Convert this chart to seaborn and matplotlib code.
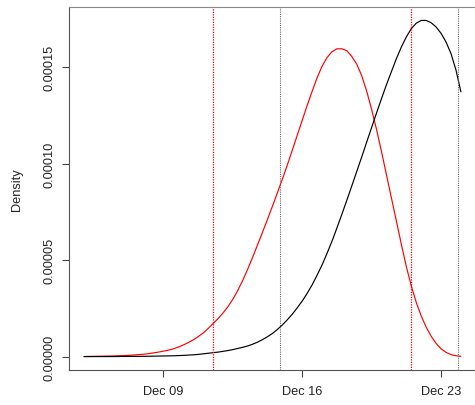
import numpy as np
import pandas as pd
import matplotlib
matplotlib.use("Agg")
import matplotlib.pyplot as plt
import matplotlib.dates as mdates
import matplotlib.ticker as mticker
import seaborn as sns

# --- data (density values, in units of 1e-5) ---
dates = pd.date_range("2020-12-05", "2020-12-24", freq="6h")

red_density = [0.00, 0.005, 0.01, 0.015, 0.02, 0.025, 0.03, 0.04, 0.05, 0.065,
               0.08, 0.10, 0.12, 0.15, 0.19, 0.23, 0.28, 0.33, 0.40, 0.49,
               0.60, 0.72, 0.86, 1.03, 1.22, 1.45, 1.70, 1.96, 2.25, 2.58,
               2.97, 3.43, 3.95, 4.53, 5.15, 5.80, 6.45, 7.12, 7.80, 8.50,
               9.20, 9.94, 10.70, 11.48, 12.25, 13.02, 13.75, 14.45, 15.05, 15.50,
               15.80, 15.95, 15.95, 15.85, 15.55, 15.15, 14.55, 13.75, 12.80, 11.75,
               10.60, 9.40, 8.20, 7.00, 5.80, 4.65, 3.65, 2.80, 2.10, 1.52,
               1.05, 0.68, 0.40, 0.22, 0.10, 0.04, 0.01]

black_density = [0.00, 0.00, 0.00, 0.00, 0.00, 0.00, 0.00, 0.005, 0.005, 0.008,
                 0.01, 0.01, 0.012, 0.015, 0.02, 0.025, 0.03, 0.035, 0.04, 0.05,
                 0.06, 0.075, 0.09, 0.11, 0.14, 0.17, 0.20, 0.23, 0.27, 0.31,
                 0.36, 0.42, 0.48, 0.55, 0.64, 0.75, 0.88, 1.03, 1.20, 1.41,
                 1.64, 1.91, 2.20, 2.53, 2.88, 3.28, 3.72, 4.22, 4.75, 5.35,
                 5.98, 6.67, 7.38, 8.11, 8.85, 9.60, 10.35, 11.12, 11.88, 12.64,
                 13.38, 14.10, 14.78, 15.45, 16.05, 16.57, 17.00, 17.28, 17.42, 17.42,
                 17.30, 17.08, 16.75, 16.30, 15.70, 14.85, 13.72]

red_bounds = ["2020-12-11 11:45", "2020-12-21 11:15"]
black_bounds = ["2020-12-14 21:00", "2020-12-23 20:00"]

tick_dates = ["2020-12-09", "2020-12-16", "2020-12-23"]
y_ticks = [0.0, 0.00005, 0.00010, 0.00015]

df = pd.DataFrame({
    "date": list(dates) * 2,
    "density": np.array(red_density + black_density) * 1e-5,
    "series": ["red"] * len(dates) + ["black"] * len(dates),
})

# --- style ---
sns.set_style("ticks")
plt.rcParams["font.family"] = ["Liberation Sans", "DejaVu Sans"]

fig = plt.figure(figsize=(4.75, 4.06), dpi=100)
ax = fig.add_axes([69 / 475, 1 - 371 / 406, 407 / 475, 363 / 406])

sns.lineplot(data=df, x="date", y="density", hue="series",
             palette={"red": "#ff0000", "black": "#000000"},
             linewidth=0.85, legend=False, estimator=None, ax=ax)

# interval markers, R "dotted" style
ax.vlines(pd.to_datetime(black_bounds), 0, 1, transform=ax.get_xaxis_transform(),
          colors="#666666", linewidths=0.8, linestyles=[(0, (1, 1))])
ax.vlines(pd.to_datetime(red_bounds), 0, 1, transform=ax.get_xaxis_transform(),
          colors="#ff0000", linewidths=0.9, linestyles=[(0, (1, 1))])

# R-style limits: data range plus 4% on each side
span = dates[-1] - dates[0]
ax.set_xlim(dates[0] - 0.04 * span, dates[-1] + 0.04 * span)
ymax = df["density"].max()
ax.set_ylim(-0.04 * ymax, 1.04 * ymax)

ax.set_xticks(pd.to_datetime(tick_dates))
ax.xaxis.set_major_formatter(mdates.DateFormatter("%b %d"))
ax.set_yticks(y_ticks)
ax.yaxis.set_major_formatter(mticker.FormatStrFormatter("%.5f"))

ax.tick_params(axis="both", length=5, width=0.8, color="#444444",
               labelsize=9.2, labelcolor="#222222")
ax.tick_params(axis="x", pad=5.5)
ax.tick_params(axis="y", pad=4.8)
for lbl in ax.get_yticklabels():
    lbl.set_rotation(90)
    lbl.set_va("center")

for side in ["left", "bottom", "top", "right"]:
    ax.spines[side].set_color("#555555")
    ax.spines[side].set_linewidth(0.8)
ax.spines["top"].set_color("#888888")

ax.set_xlabel("")
ax.set_ylabel("")
fig.text(17.5 / 475, 1 - 189.5 / 406, "Density", rotation=90,
         ha="center", va="center", fontsize=9.2, color="#222222")

fig.savefig("out.png", dpi=100)
